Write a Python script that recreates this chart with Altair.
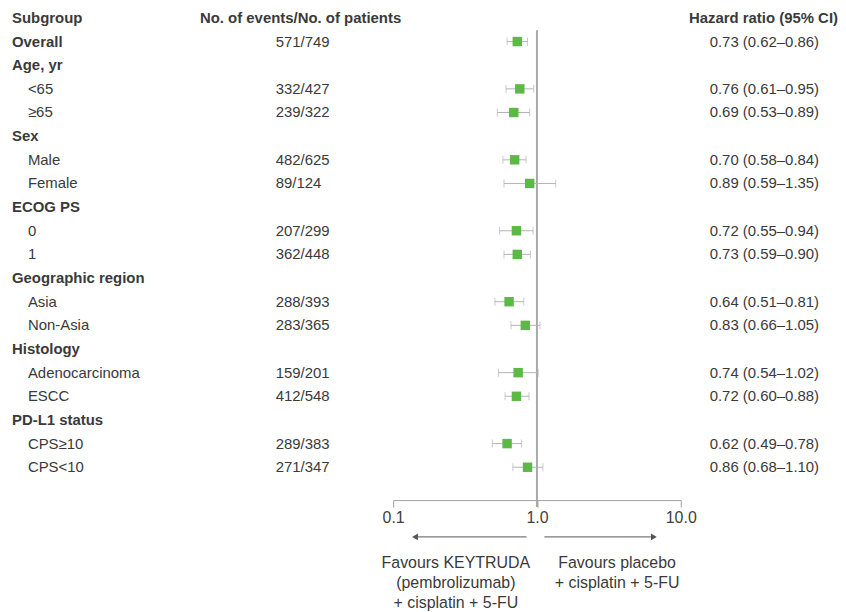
import altair as alt
import pandas as pd

# ---------------- data ----------------
subgroups = ["Overall", "Age, yr", "<65", "≥65", "Sex", "Male", "Female",
             "ECOG PS", "0", "1", "Geographic region", "Asia", "Non-Asia",
             "Histology", "Adenocarcinoma", "ESCC", "PD-L1 status", "CPS≥10", "CPS<10"]
is_heading = [True, True, False, False, True, False, False,
              True, False, False, True, False, False,
              True, False, False, True, False, False]
events = ["571/749", "", "332/427", "239/322", "", "482/625", "89/124",
          "", "207/299", "362/448", "", "288/393", "283/365",
          "", "159/201", "412/548", "", "289/383", "271/347"]
hr = [0.73, None, 0.76, 0.69, None, 0.70, 0.89,
      None, 0.72, 0.73, None, 0.64, 0.83,
      None, 0.74, 0.72, None, 0.62, 0.86]
ci_low = [0.62, None, 0.61, 0.53, None, 0.58, 0.59,
          None, 0.55, 0.59, None, 0.51, 0.66,
          None, 0.54, 0.60, None, 0.49, 0.68]
ci_high = [0.86, None, 0.95, 0.89, None, 0.84, 1.35,
           None, 0.94, 0.90, None, 0.81, 1.05,
           None, 1.02, 0.88, None, 0.78, 1.10]
axis_ticks = [0.1, 1.0, 10.0]
headers = ["Subgroup", "No. of events/No. of patients", "Hazard ratio (95% CI)"]
left_note = ["Favours KEYTRUDA", "(pembrolizumab)", "+ cisplatin + 5-FU"]
right_note = ["Favours placebo", "+ cisplatin + 5-FU"]

# ---------------- tables ----------------
rows = []
for i, name in enumerate(subgroups):
    label = ""
    if hr[i] is not None:
        label = f"{hr[i]:.2f} ({ci_low[i]:.2f}–{ci_high[i]:.2f})"
    rows.append(dict(row=i + 1, name=name, heading=is_heading[i], events=events[i],
                     hr=hr[i], lo=ci_low[i], hi=ci_high[i], label=label))
df = pd.DataFrame(rows)
df_hr = df[df["hr"].notna()]
df_head = df[df["heading"]]
df_item = df[~df["heading"]]
df_events = df[df["events"] != ""]
hdr = pd.DataFrame({"row": [0], "a": [headers[0]], "b": [headers[1]], "c": [headers[2]]})
ref = pd.DataFrame({"x": [1.0]})
dummy = pd.DataFrame({"k": [0]})

TXT = "#3a3a3a"
FONT = "Liberation Sans"
FS = 15
GREEN = "#5cb946"
WHISK = "#b3b3b3"

xscale = alt.Scale(type="log", domain=[0.1, 10], range=[387, 676])
yscale = alt.Scale(domain=[0, 19], range=[8.5, 460])


def Y():
    return alt.Y("row:Q", scale=yscale, axis=None)


xaxis = alt.Axis(values=axis_ticks, format=".1f", grid=False, labelFontSize=16,
                 labelColor="#404040", labelFont=FONT, domainColor="#a0a0a0",
                 tickColor="#a0a0a0", tickSize=7, labelPadding=3, title=None,
                 labelFlush=False)

ref_line = alt.Chart(ref).mark_rule(color="#a9a9a9", strokeWidth=2).encode(
    x=alt.X("x:Q", scale=xscale, axis=xaxis, title=None),
    y=alt.value(21), y2=alt.value(500))

whisk = alt.Chart(df_hr).mark_rule(color=WHISK, strokeWidth=1).encode(
    x=alt.X("lo:Q", scale=xscale, title=None), x2="hi:Q", y=Y())
cap_lo = alt.Chart(df_hr).mark_tick(color=WHISK, orient="vertical", size=8, thickness=1).encode(
    x=alt.X("lo:Q", scale=xscale, title=None), y=Y())
cap_hi = alt.Chart(df_hr).mark_tick(color=WHISK, orient="vertical", size=8, thickness=1).encode(
    x=alt.X("hi:Q", scale=xscale, title=None), y=Y())
squares = alt.Chart(df_hr).mark_square(size=90, color=GREEN, opacity=1, filled=True).encode(
    x=alt.X("hr:Q", scale=xscale, title=None), y=Y())

base_txt = dict(font=FONT, fontSize=FS, color=TXT, baseline="middle")
head_txt = alt.Chart(df_head).mark_text(align="left", fontWeight="bold", **base_txt).encode(
    x=alt.value(4), y=Y(), text="name:N")
item_txt = alt.Chart(df_item).mark_text(align="left", **base_txt).encode(
    x=alt.value(20), y=Y(), text="name:N")
ev_txt = alt.Chart(df_events).mark_text(align="left", **base_txt).encode(
    x=alt.value(269), y=Y(), text="events:N")
hr_txt = alt.Chart(df_hr).mark_text(align="right", **base_txt).encode(
    x=alt.value(815), y=Y(), text="label:N")

h1 = alt.Chart(hdr).mark_text(align="left", fontWeight="bold", **base_txt).encode(
    x=alt.value(4), y=Y(), text="a:N")
h2 = alt.Chart(hdr).mark_text(align="center", fontWeight="bold", **base_txt).encode(
    x=alt.value(294), y=Y(), text="b:N")
h3 = alt.Chart(hdr).mark_text(align="right", fontWeight="bold", **base_txt).encode(
    x=alt.value(834), y=Y(), text="c:N")

ARROW = "#555555"
arr_l = alt.Chart(dummy).mark_rule(color=ARROW, strokeWidth=1).encode(
    x=alt.value(521), x2=alt.value(412), y=alt.value(530))
arr_r = alt.Chart(dummy).mark_rule(color=ARROW, strokeWidth=1).encode(
    x=alt.value(539), x2=alt.value(646), y=alt.value(530))
head_l = alt.Chart(dummy).mark_point(shape="triangle-left", size=45, filled=True,
                                     color=ARROW, opacity=1).encode(
    x=alt.value(409), y=alt.value(530))
head_r = alt.Chart(dummy).mark_point(shape="triangle-right", size=45, filled=True,
                                     color=ARROW, opacity=1).encode(
    x=alt.value(649), y=alt.value(530))

note_l = alt.Chart(pd.DataFrame({"t": [left_note]})).mark_text(
    align="center", baseline="top", font=FONT, fontSize=16, color=TXT, lineHeight=20).encode(
    x=alt.value(450), y=alt.value(548), text="t")
note_r = alt.Chart(pd.DataFrame({"t": [right_note]})).mark_text(
    align="center", baseline="top", font=FONT, fontSize=16, color=TXT, lineHeight=20).encode(
    x=alt.value(612), y=alt.value(548), text="t")

chart = alt.layer(
    ref_line, whisk, cap_lo, cap_hi, squares,
    head_txt, item_txt, ev_txt, hr_txt, h1, h2, h3,
    arr_l, arr_r, head_l, head_r, note_l, note_r,
).properties(width=834, height=493, padding=0, background="white"
).configure_view(stroke=None)

chart.save("out.html", embed_options={"renderer": "svg", "actions": False})
